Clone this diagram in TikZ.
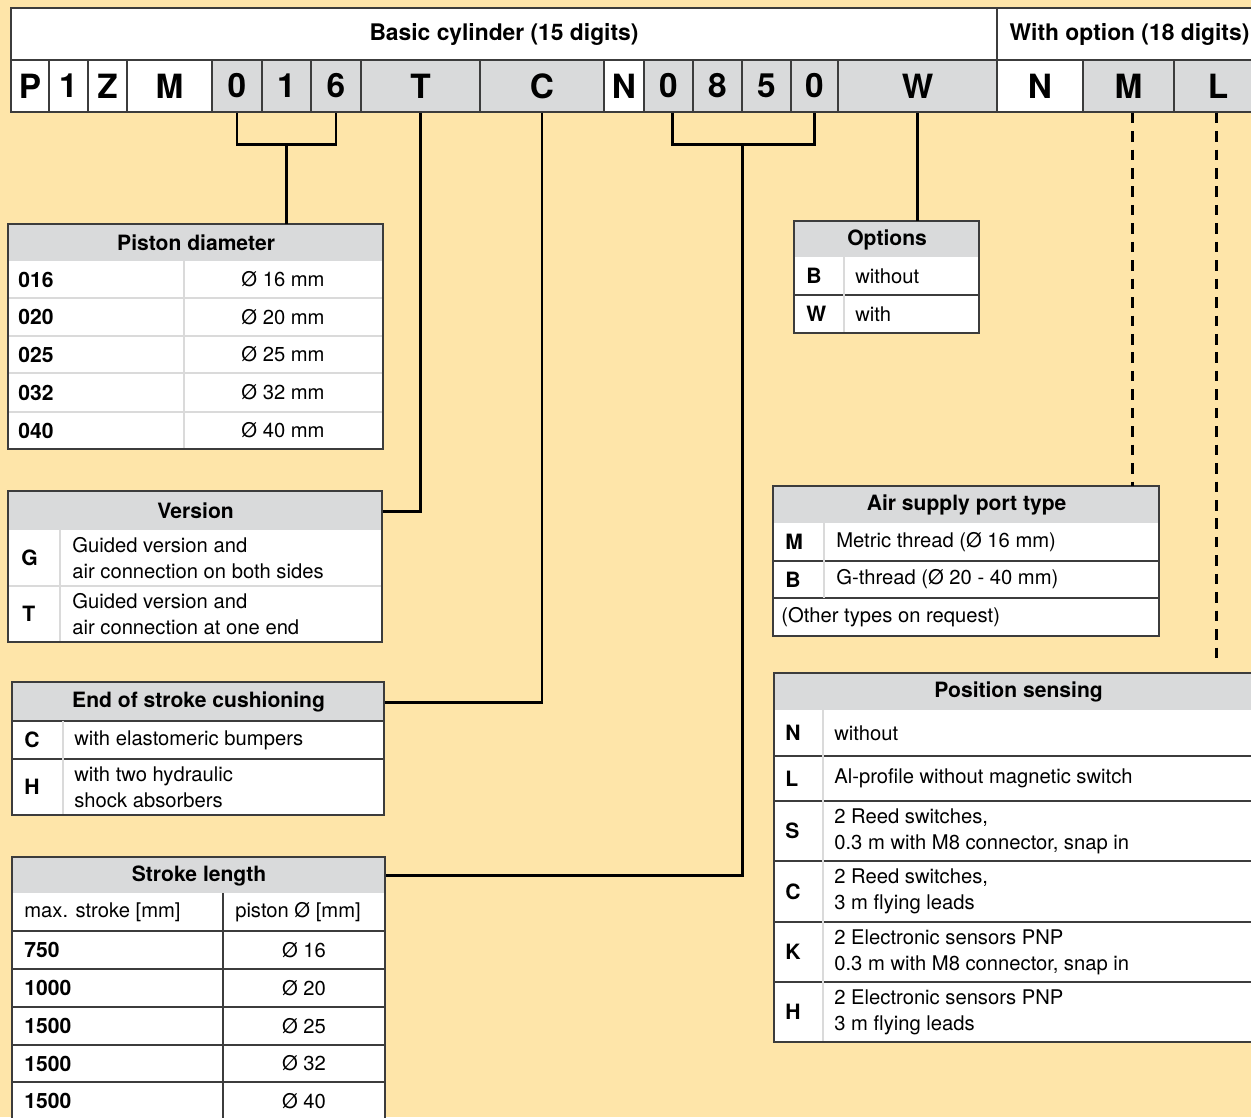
\documentclass[tikz,border=0pt]{standalone}
\usepackage{fontspec}
\setmainfont{TeX Gyre Heros}
\usepackage{tikz}
\usetikzlibrary{calc,positioning}
\usepackage{xcolor}
\definecolor{bgpeach}{HTML}{FEE5A9}
\definecolor{cellgray}{HTML}{D9DADB}
\definecolor{framegray}{HTML}{3C3C3C}
\definecolor{sepgray}{HTML}{DADADA}

\tikzset{
  codecell/.style={draw=framegray, line width=0.7pt, inner sep=0pt, minimum height=1.04cm, font=\bfseries\fontsize{19}{19}\selectfont},
  headcell/.style={draw=framegray, line width=0.7pt, fill=white, inner sep=0pt, minimum height=1.04cm, font=\bfseries\fontsize{13}{15}\selectfont},
  tabhead/.style={draw=framegray, line width=0.7pt, fill=cellgray, inner sep=0pt, anchor=north west, font=\bfseries\fontsize{12}{14}\selectfont},
  keytxt/.style={anchor=west, inner sep=0pt, font=\bfseries\fontsize{12}{14}\selectfont},
  desctxt/.style={anchor=west, align=left, inner sep=0pt, font=\fontsize{11.5}{14.7}\selectfont},
  valtxt/.style={inner sep=0pt, font=\fontsize{11.5}{14}\selectfont},
  tabframe/.style={draw=framegray, line width=0.7pt},
  darksep/.style={framegray, line width=0.7pt},
  lightsep/.style={sepgray, line width=1pt},
  conn/.style={line width=1.7pt},
  dconn/.style={line width=1.7pt, dash pattern=on 6pt off 4.5pt}
}

\begin{document}
\begin{tikzpicture}[x=0.02cm, y=-0.02cm]
  \useasboundingbox (0,0) rectangle (1251,1117);
  \fill[bgpeach] (0,0) rectangle (1251,1117);
  \clip (0,0) rectangle (1251,1117);

  % order code
  \node[headcell, minimum width=19.72cm] (hBasic) at (504,34) {Basic cylinder (15 digits)};
  \node[headcell, minimum width=5.3cm] (hOpt) at (1129.5,34) {With option (18 digits)};
  \foreach \xa/\xb/\lbl/\fc/\nm in {11/49/P/white/cP, 49/88/1/white/cOne, 88/127/Z/white/cZ, 127/212/M/white/cM,
      212/262/0/cellgray/dA, 262/311/1/cellgray/dB, 311/361/6/cellgray/dC, 361/480/T/cellgray/cT,
      480/604/C/cellgray/cC, 604/644/N/white/cN, 644/693/0/cellgray/sA, 693/742/8/cellgray/sB,
      742/791/5/cellgray/sC, 791/838/0/cellgray/sD, 838/997/W/cellgray/cW,
      997/1083/N/white/oN, 1083/1174/M/cellgray/oM, 1174/1262/L/cellgray/oL}
    \node[codecell, fill=\fc, minimum width={(\xb-\xa)*0.02cm}] (\nm) at ({(\xa+\xb)/2},86) {\lbl};

  % piston diameter
  \node[tabhead, minimum width=7.5cm, minimum height=0.74cm] (tDia) at (8,224) {Piston diameter};
  \fill[white] (8,261) rectangle (383,449);
  \foreach \y in {298,336,373,412} \draw[lightsep] (8,\y) -- (383,\y);
  \draw[lightsep] (184,261) -- (184,449);
  \draw[tabframe] (8,224) rectangle (383,449);
  \foreach \k/\v/\y [count=\i] in {016/16/279.5, 020/20/317, 025/25/354.5, 032/32/392.5, 040/40/430.5}{
    \node[keytxt] (dk\i) at (18,\y) {\k};
    \node[valtxt] (dv\i) at (283,\y) {Ø \v\ mm};
  }

  % version
  \node[tabhead, minimum width=7.48cm, minimum height=0.78cm] (tVer) at (8,491) {Version};
  \fill[white] (8,530) rectangle (382,642);
  \draw[lightsep] (8,586) -- (382,586);
  \draw[lightsep] (60,530) -- (60,642);
  \draw[tabframe] (8,491) rectangle (382,642);
  \node[keytxt] (vG) at (21,558) {G};
  \node[desctxt] (vGd) at (72,558) {Guided version and\\air connection on both sides};
  \node[keytxt] (vT) at (22,614) {T};
  \node[desctxt] (vTd) at (72,614) {Guided version and\\air connection at one end};

  % end of stroke cushioning
  \node[tabhead, minimum width=7.44cm, minimum height=0.78cm] (tEnd) at (12,682) {End of stroke cushioning};
  \fill[white] (12,721) rectangle (384,815);
  \draw[darksep] (12,721) -- (384,721);
  \draw[darksep] (12,759) -- (384,759);
  \draw[lightsep] (63,721) -- (63,815);
  \draw[tabframe] (12,682) rectangle (384,815);
  \node[keytxt] (eC) at (24,740) {C};
  \node[desctxt] (eCd) at (74,740) {with elastomeric bumpers};
  \node[keytxt] (eH) at (24,787) {H};
  \node[desctxt] (eHd) at (74,787) {with two hydraulic\\shock absorbers};

  % stroke length
  \node[tabhead, minimum width=7.46cm, minimum height=0.72cm] (tStr) at (12,857) {Stroke length};
  \fill[white] (12,893) rectangle (385,1125);
  \foreach \y in {931,969,1007,1045,1082} \draw[darksep] (12,\y) -- (385,\y);
  \draw[darksep] (223,893) -- (223,1125);
  \draw[tabframe] (12,857) rectangle (385,1125);
  \node[desctxt] (sHa) at (24,912) {max. stroke [mm]};
  \node[valtxt] (sHb) at (298,912) {piston Ø [mm]};
  \foreach \k/\v/\y [count=\i] in {750/16/950, 1000/20/988, 1500/25/1026, 1500/32/1063.5, 1500/40/1101}{
    \node[keytxt] (sk\i) at (24,\y) {\k};
    \node[valtxt] (sv\i) at (304,\y) {Ø \v};
  }

  % options
  \node[tabhead, minimum width=3.7cm, minimum height=0.72cm] (tOpt) at (794,221) {Options};
  \fill[white] (794,257) rectangle (979,333);
  \draw[darksep] (794,295) -- (979,295);
  \draw[lightsep] (844,257) -- (844,333);
  \draw[tabframe] (794,221) rectangle (979,333);
  \node[keytxt] (pB) at (806,276) {B};
  \node[desctxt] (pBd) at (855,276) {without};
  \node[keytxt] (pW) at (806,314) {W};
  \node[desctxt] (pWd) at (855,314) {with};

  % air supply port type
  \node[tabhead, minimum width=7.72cm, minimum height=0.74cm] (tAir) at (773,486) {Air supply port type};
  \fill[white] (773,523) rectangle (1159,636);
  \draw[darksep] (773,561) -- (1159,561);
  \draw[darksep] (773,598) -- (1159,598);
  \draw[lightsep] (824,523) -- (824,598);
  \draw[tabframe] (773,486) rectangle (1159,636);
  \node[keytxt] (aM) at (785,542) {M};
  \node[desctxt] (aMd) at (836,542) {Metric thread (Ø 16 mm)};
  \node[keytxt] (aB) at (785,579.5) {B};
  \node[desctxt] (aBd) at (836,579.5) {G-thread (Ø 20 - 40 mm)};
  \node[desctxt] (aO) at (781,617) {(Other types on request)};

  % position sensing
  \node[tabhead, minimum width=9.76cm, minimum height=0.74cm] (tPos) at (774,673) {Position sensing};
  \fill[white] (774,710) rectangle (1262,1042);
  \foreach \y in {756,801,861,922,982} \draw[darksep] (774,\y) -- (1262,\y);
  \draw[lightsep] (823,710) -- (823,1042);
  \draw[tabframe] (774,673) rectangle (1262,1042);
  \foreach \k/\d/\y [count=\i] in {N/{without}/733, L/{Al-profile without magnetic switch}/778.5,
      S/{2 Reed switches,\\0.3 m with M8 connector, snap in}/831, C/{2 Reed switches,\\3 m flying leads}/891.5,
      K/{2 Electronic sensors PNP\\0.3 m with M8 connector, snap in}/952, H/{2 Electronic sensors PNP\\3 m flying leads}/1012}{
    \node[keytxt] (qk\i) at (785,\y) {\k};
    \node[desctxt] (qd\i) at (834,\y) {\d};
  }

  % connectors
  \coordinate (mTap) at ([xshift=2pt]oM.south);
  \coordinate (lTap) at ([xshift=-1pt]oL.south);
  \coordinate (sTap) at ([xshift=2.5pt]sA.south);
  \draw[conn] (dA.south) -- ++(0,32) coordinate (braA) -| (dC.south);
  \draw[conn] (braA -| dB.south) -- (dB.south |- tDia.north);
  \draw[conn] (cT.south) |- (tVer.east);
  \draw[conn] (cC.south) |- (tEnd.east);
  \draw[conn] (sTap) -- ++(0,32) coordinate (braB) -| (sD.south);
  \draw[conn] (braB -| sB.south east) |- (tStr.east);
  \draw[conn] (cW.south) -- (cW.south |- tOpt.north);
  \draw[dconn] (mTap) -- (mTap |- tAir.north);
  \draw[dconn, shorten >=4.5pt] (lTap) -- (lTap |- tPos.north);
\end{tikzpicture}
\end{document}
